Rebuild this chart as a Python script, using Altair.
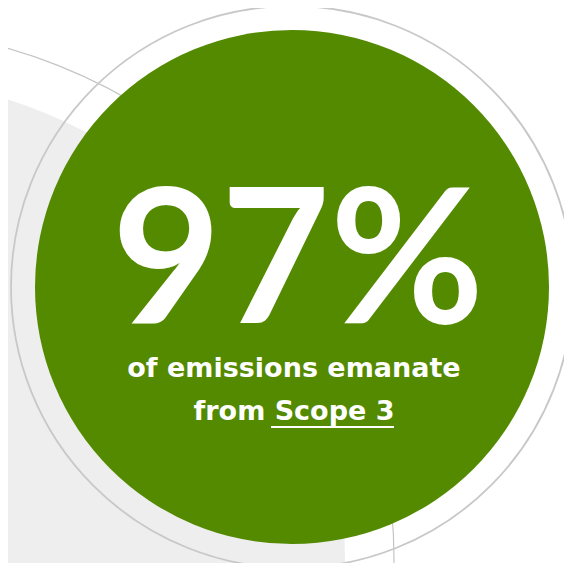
import altair as alt
import pandas as pd

# ---- content ----
STAT_VALUE = [97]
STAT_UNIT = ["%"]
CAPTION_LINES = ["of emissions emanate", "from Scope 3"]
UNDERLINED_PHRASE = ["Scope 3"]

GREEN = "#538a00"
W, H = 556, 555

stat_df = pd.DataFrame({"label": [f"{v}{u}" for v, u in zip(STAT_VALUE, STAT_UNIT)]})
line1_df = pd.DataFrame({"label": [CAPTION_LINES[0]]})
line2_df = pd.DataFrame({"label": [CAPTION_LINES[1]]})
one = pd.DataFrame({"k": [0]})


def area(r):
    # Vega circle symbol: radius = sqrt(size) / 2
    return (2 * r) ** 2


base = alt.Chart(one)

bg_fill = base.mark_point(filled=True, shape="circle", size=area(483),
                          color="#eeeeee", opacity=1, strokeWidth=0).encode(
    x=alt.value(-146), y=alt.value(552))

bg_line = base.mark_point(filled=False, shape="circle", size=area(532),
                          color="#c4c4c4", strokeWidth=1.2, opacity=1).encode(
    x=alt.value(-146), y=alt.value(552))

ring = base.mark_point(filled=False, shape="circle", size=area(281),
                       color="#c8c8c8", strokeWidth=1.8, opacity=1).encode(
    x=alt.value(284), y=alt.value(279))

disc = base.mark_point(filled=True, shape="circle", size=area(257),
                       color=GREEN, opacity=1, strokeWidth=0).encode(
    x=alt.value(284), y=alt.value(279))

big = alt.Chart(stat_df).mark_text(
    font="Lato", fontWeight="bold", fontSize=188, color="white",
    align="center", baseline="alphabetic").encode(
    x=alt.value(290), y=alt.value(315), text="label:N")

cap1 = alt.Chart(line1_df).mark_text(
    font="DejaVu Sans", fontWeight="bold", fontSize=27, color="white",
    align="center", baseline="alphabetic").encode(
    x=alt.value(286), y=alt.value(369), text="label:N")

cap2 = alt.Chart(line2_df).mark_text(
    font="DejaVu Sans", fontWeight="bold", fontSize=27, color="white",
    align="center", baseline="alphabetic").encode(
    x=alt.value(286), y=alt.value(412), text="label:N")

underline = alt.Chart(pd.DataFrame({"phrase": UNDERLINED_PHRASE})).mark_rule(
    color="white", strokeWidth=2.2).encode(
    x=alt.value(263), x2=alt.value(386), y=alt.value(419))

chart = alt.layer(bg_fill, bg_line, ring, disc, big, cap1, cap2, underline).properties(
    width=W, height=H, padding=0, autosize=alt.AutoSizeParams(type="none"),
    background="white"
).configure_view(stroke=None)

chart.save("out.html", embed_options={"renderer": "svg", "actions": False})
